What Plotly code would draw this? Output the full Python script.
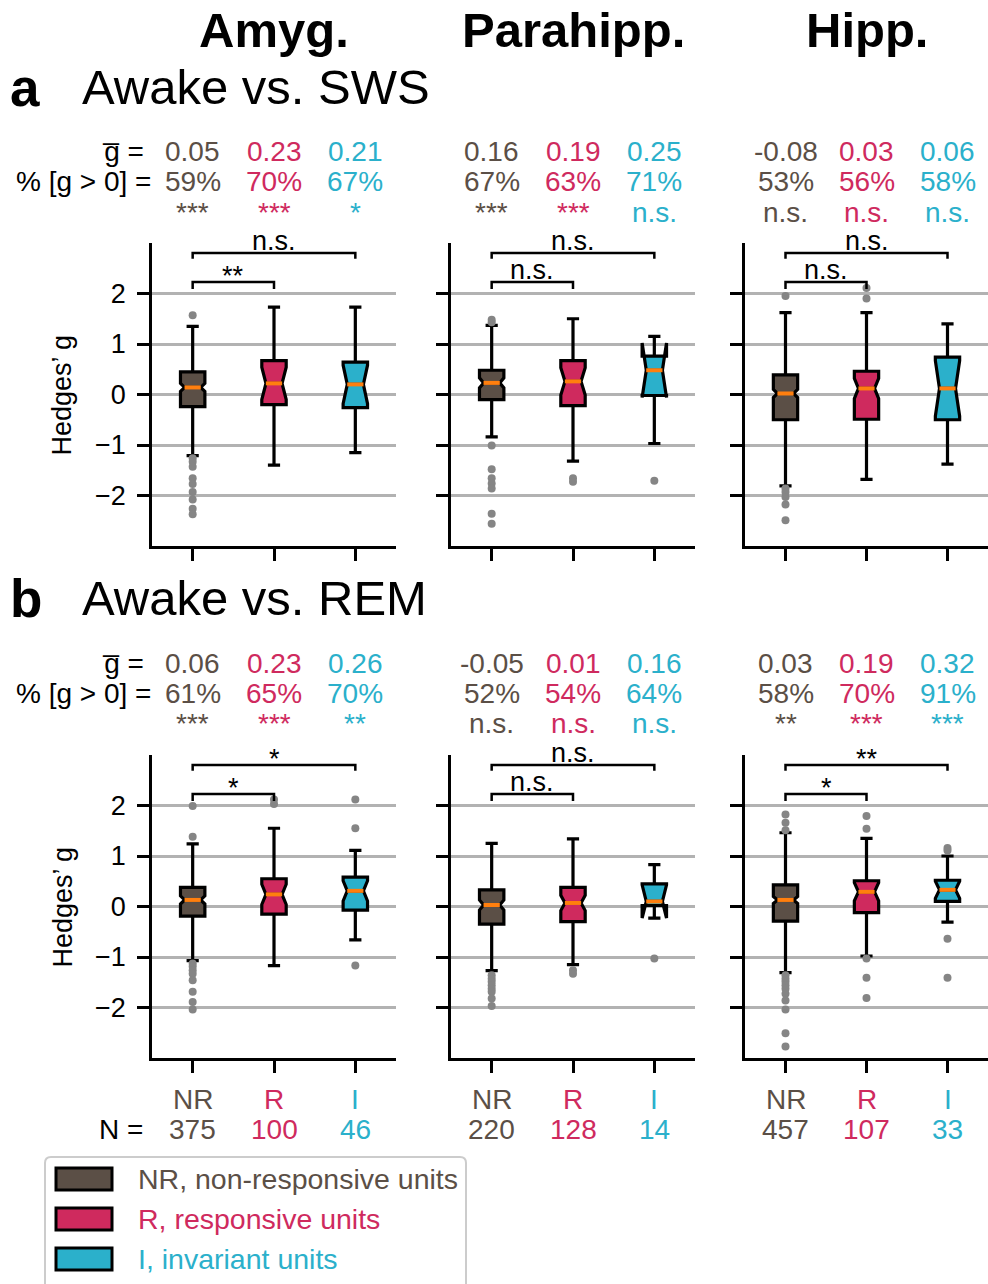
import plotly.graph_objects as go

W, H = 988, 1284
FONT = "Liberation Sans, Arial, Helvetica, sans-serif"

# ---------------- data ----------------
groups = ["NR", "R", "I"]
group_colors = ["#5b4f46", "#cf2a5e", "#2bb0cb"]
legend_labels = ["NR, non-responsive units", "R, responsive units", "I, invariant units"]
regions = ["Amyg.", "Parahipp.", "Hipp."]
conditions = ["Awake vs. SWS", "Awake vs. REM"]
panel_letters = ["a", "b"]
y_ticks = [-2, -1, 0, 1, 2]
unit_counts = [[375, 100, 46], [220, 128, 14], [457, 107, 33]]

# mean g and % g>0 with significance (per region, per group)
gmean_sws = [[0.05, 0.23, 0.21], [0.16, 0.19, 0.25], [-0.08, 0.03, 0.06]]
pct_sws = [[59, 70, 67], [67, 63, 71], [53, 56, 58]]
sig_sws = [["***", "***", "*"], ["***", "***", "n.s."], ["n.s.", "n.s.", "n.s."]]
gmean_rem = [[0.06, 0.23, 0.26], [-0.05, 0.01, 0.16], [0.03, 0.19, 0.32]]
pct_rem = [[61, 65, 70], [52, 54, 64], [58, 70, 91]]
sig_rem = [["***", "***", "**"], ["n.s.", "n.s.", "n.s."], ["**", "***", "***"]]

# pairwise comparisons: [NR vs R, NR vs I]
pair_sws = [["**", "n.s."], ["n.s.", "n.s."], ["n.s.", "n.s."]]
pair_rem = [["*", "*"], ["n.s.", "n.s."], ["*", "**"]]

# box statistics (per region, per group)
q1_sws = [[-0.24, -0.20, -0.26], [-0.10, -0.22, -0.02], [-0.50, -0.49, -0.50]]
med_sws = [[0.14, 0.22, 0.20], [0.23, 0.26, 0.48], [0.02, 0.12, 0.12]]
q3_sws = [[0.45, 0.67, 0.64], [0.48, 0.67, 0.76], [0.39, 0.46, 0.74]]
lo_sws = [[-1.21, -1.40, -1.15], [-0.84, -1.32, -0.97], [-1.81, -1.68, -1.38]]
hi_sws = [[1.35, 1.73, 1.73], [1.37, 1.50, 1.15], [1.62, 1.62, 1.40]]
notch_sws = [[0.08, 0.32, 0.38], [0.10, 0.27, 0.54], [0.08, 0.20, 0.55]]
out_sws = [
    [[1.57, -1.26, -1.33, -1.43, -1.66, -1.77, -1.93, -2.08, -2.26, -2.37], [], []],
    [[1.48, 1.43, -1.01, -1.48, -1.66, -1.76, -1.86, -2.36, -2.56], [-1.66, -1.73], [-1.71]],
    [[1.95, -1.86, -1.93, -2.03, -2.18, -2.49], [2.11, 1.90], []],
]

q1_rem = [[-0.19, -0.15, -0.07], [-0.35, -0.30, 0.02], [-0.29, -0.12, 0.10]]
med_rem = [[0.13, 0.24, 0.31], [0.03, 0.07, 0.10], [0.13, 0.29, 0.33]]
q3_rem = [[0.38, 0.55, 0.58], [0.33, 0.38, 0.45], [0.43, 0.51, 0.52]]
lo_rem = [[-1.07, -1.17, -0.66], [-1.27, -1.15, -0.15], [-1.31, -0.98, -0.31]]
hi_rem = [[1.24, 1.55, 1.11], [1.25, 1.34, 0.83], [1.46, 1.35, 1.00]]
notch_rem = [[0.08, 0.20, 0.20], [0.10, 0.15, 0.33], [0.07, 0.18, 0.17]]
out_rem = [
    [[1.99, 1.38, -1.13, -1.19, -1.26, -1.33, -1.46, -1.69, -1.89, -2.04], [2.12, 2.03], [2.12, 1.55, -1.17]],
    [[-1.36, -1.43, -1.49, -1.56, -1.63, -1.69, -1.82, -1.97], [-1.26, -1.33], [-1.03]],
    [[1.82, 1.66, 1.51, -1.36, -1.43, -1.49, -1.56, -1.63, -1.73, -1.86, -2.04, -2.51, -2.77],
     [1.79, 1.54, -1.03, -1.41, -1.81], [1.16, 1.11, -0.64, -1.41]],
]

rows = [
    dict(q1=q1_sws, med=med_sws, q3=q3_sws, lo=lo_sws, hi=hi_sws, notch=notch_sws, out=out_sws,
         gmean=gmean_sws, pct=pct_sws, sig=sig_sws, pair=pair_sws),
    dict(q1=q1_rem, med=med_rem, q3=q3_rem, lo=lo_rem, hi=hi_rem, notch=notch_rem, out=out_rem,
         gmean=gmean_rem, pct=pct_rem, sig=sig_rem, pair=pair_rem),
]

# ---------------- layout geometry (pixels) ----------------
col_px = [(152, 396), (451, 695), (745, 988)]
row_px = [(243, 546), (755, 1058)]
BOX_W = 0.3
MED_HALF = 0.1
TXT = 28


def px(x):
    return x / W


def py(y):
    return 1 - y / H


fig = go.Figure()
annotations = []
shapes = []


def ann(text, x, y, size=TXT, color="black", xanchor="center", yanchor="middle",
        xref="paper", yref="paper", textangle=0, yshift=0):
    annotations.append(dict(text=text, x=x, y=y, xref=xref, yref=yref, showarrow=False,
                            xanchor=xanchor, yanchor=yanchor, textangle=textangle, yshift=yshift,
                            font=dict(family=FONT, size=size, color=color)))


layout_axes = {}
for r in range(2):
    d = rows[r]
    for c in range(3):
        k = r * 3 + c + 1
        xa = "x" if k == 1 else f"x{k}"
        ya = "y" if k == 1 else f"y{k}"
        xkey = "xaxis" if k == 1 else f"xaxis{k}"
        ykey = "yaxis" if k == 1 else f"yaxis{k}"
        layout_axes[xkey] = dict(
            domain=[px(col_px[c][0]), px(col_px[c][1])], range=[-0.5, 2.5], anchor=ya,
            tickvals=[0, 1, 2], ticktext=["", "", ""], ticks="outside", ticklen=12,
            tickwidth=2.5, tickcolor="black", showline=True, linewidth=2.5, linecolor="black",
            showgrid=False, zeroline=False, fixedrange=True)
        layout_axes[ykey] = dict(
            domain=[py(row_px[r][1]), py(row_px[r][0])], range=[-3, 3], anchor=xa,
            tickvals=y_ticks, ticks="outside", ticklen=12, tickwidth=2.5, tickcolor="black",
            showticklabels=(c == 0), tickfont=dict(family=FONT, size=27, color="black"),
            ticklabelstandoff=6,
            showline=True, linewidth=2.5, linecolor="black", showgrid=True,
            gridcolor="#b2b2b2", gridwidth=2.5, zeroline=False, fixedrange=True)

        for g in range(3):
            fig.add_trace(go.Box(
                x=[g], q1=[d["q1"][c][g]], median=[d["med"][c][g]], q3=[d["q3"][c][g]],
                lowerfence=[d["lo"][c][g]], upperfence=[d["hi"][c][g]],
                notchspan=[d["notch"][c][g]], notched=True, notchwidth=0.17,
                width=BOX_W, whiskerwidth=0.5, boxpoints=False,
                fillcolor=group_colors[g], line=dict(color="black", width=3.2),
                xaxis=xa, yaxis=ya, showlegend=False, hoverinfo="skip"))
            fig.add_trace(go.Scatter(
                x=[g - MED_HALF, g + MED_HALF], y=[d["med"][c][g]] * 2, mode="lines",
                line=dict(color="#ff7f0e", width=4), xaxis=xa, yaxis=ya,
                showlegend=False, hoverinfo="skip"))
            outs = d["out"][c][g]
            if outs:
                fig.add_trace(go.Scatter(
                    x=[g] * len(outs), y=outs, mode="markers",
                    marker=dict(color="#858585", size=8), xaxis=xa, yaxis=ya,
                    showlegend=False, hoverinfo="skip", cliponaxis=False))

        # significance brackets
        for (g2, h, leg, lab) in [(1, 2.23, 0.14, d["pair"][c][0]), (2, 2.80, 0.11, d["pair"][c][1])]:
            fig.add_trace(go.Scatter(
                x=[0, 0, g2, g2], y=[h - leg, h, h, h - leg], mode="lines",
                line=dict(color="black", width=2.5), xaxis=xa, yaxis=ya,
                showlegend=False, hoverinfo="skip", cliponaxis=False))
            shift = -5 if lab == "n.s." else -11
            ann(lab, g2 / 2, h, size=27, xref=xa, yref=ya, yanchor="bottom", yshift=shift)

        # stats text
        base = [151, 182, 212] if r == 0 else [663, 693, 723]
        for g in range(3):
            ann(f"{d['gmean'][c][g]:.2f}", g, py(base[0]), color=group_colors[g], xref=xa)
            ann(f"{d['pct'][c][g]}%", g, py(base[1]), color=group_colors[g], xref=xa)
            ann(d["sig"][c][g], g, py(base[2]), color=group_colors[g], xref=xa)
        if c == 0:
            ann("g\u0305 =", px(146), py(base[0]), xanchor="right")
            ann("% [g > 0] =", px(153), py(base[1]), xanchor="right")
            ann("Hedges\u2019 g", px(62), py((row_px[r][0] + row_px[r][1]) / 2), size=27, textangle=-90)

        # bottom labels
        if r == 1:
            for g in range(3):
                ann(groups[g], g, py(1099), color=group_colors[g], xref=xa)
                ann(str(unit_counts[c][g]), g, py(1129), color=group_colors[g], xref=xa)

    # panel titles
    ty = 87 if r == 0 else 598
    ann(f"<b>{panel_letters[r]}</b>", px(8), py(ty), size=53, xanchor="left")
    ann(conditions[r], px(80), py(ty), size=49, xanchor="left")

ann("N =", px(145), py(1129), xanchor="right")

# region headers
for c in range(3):
    ann(f"<b>{regions[c]}</b>", 1, py(30), size=49,
        xref=("x" if c == 0 else f"x{c + 1}"))

# legend (drawn manually)
lx0, lx1, ly0, ly1, rr = 45, 466, 1157, 1292, 6
shapes.append(dict(
    type="path", xref="paper", yref="paper",
    path=(f"M {px(lx0 + rr)},{py(ly0)} L {px(lx1 - rr)},{py(ly0)} "
          f"Q {px(lx1)},{py(ly0)} {px(lx1)},{py(ly0 + rr)} L {px(lx1)},{py(ly1)} "
          f"L {px(lx0)},{py(ly1)} L {px(lx0)},{py(ly0 + rr)} Q {px(lx0)},{py(ly0)} {px(lx0 + rr)},{py(ly0)} Z"),
    line=dict(color="#cccccc", width=2), fillcolor="white", layer="above"))
for g in range(3):
    yc = 1179 + 40 * g
    shapes.append(dict(type="rect", xref="paper", yref="paper",
                       x0=px(56), x1=px(112), y0=py(yc - 11), y1=py(yc + 11),
                       line=dict(color="black", width=3), fillcolor=group_colors[g], layer="above"))
    ann(legend_labels[g], px(136), py(yc), size=28.5, color=group_colors[g], xanchor="left")

fig.update_layout(
    width=W, height=H, margin=dict(l=0, r=0, t=0, b=0),
    paper_bgcolor="white", plot_bgcolor="white", boxmode="overlay",
    font=dict(family=FONT, size=TXT, color="black"),
    annotations=annotations, shapes=shapes, showlegend=False, **layout_axes)

fig.write_html("out.html")
